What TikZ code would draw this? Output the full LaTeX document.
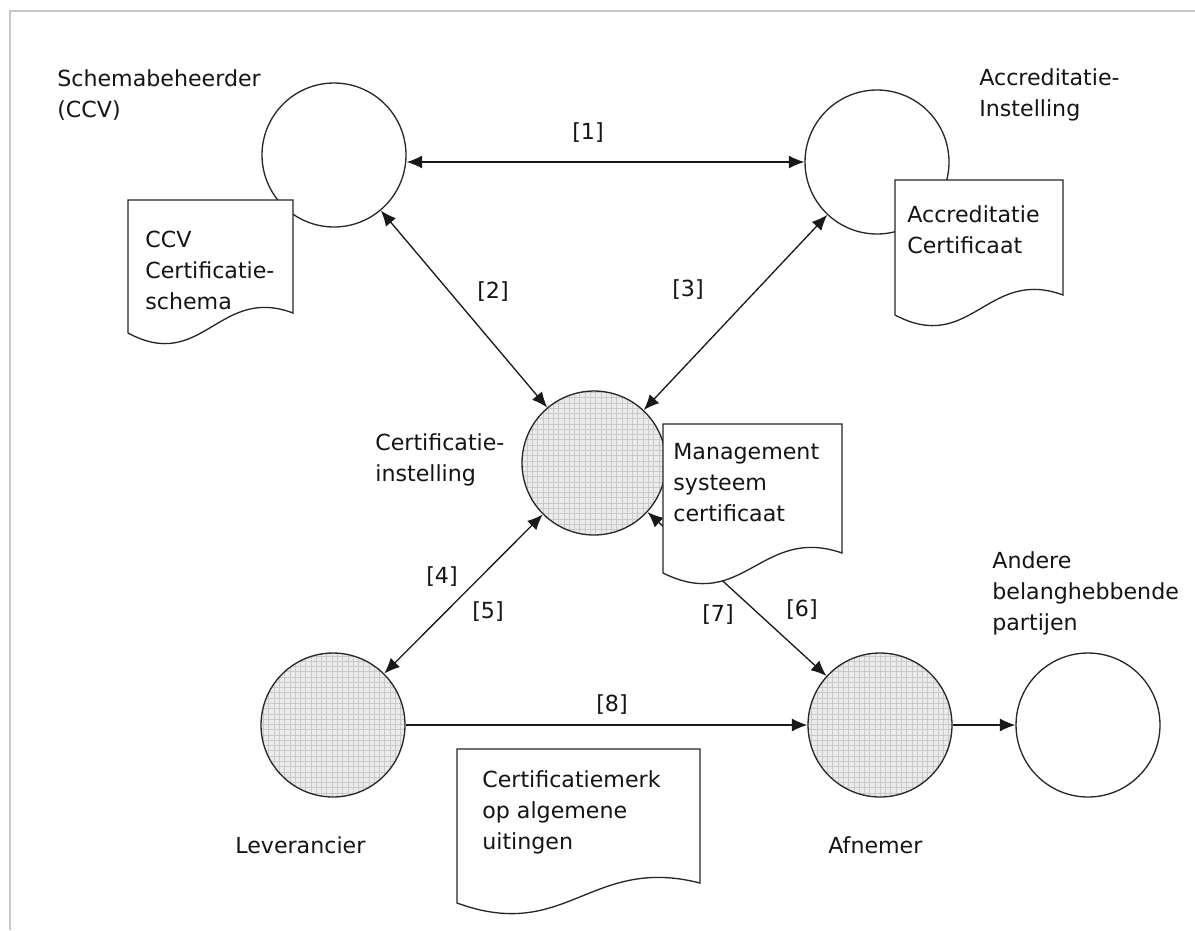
\documentclass[tikz,border=0pt]{standalone}
\usepackage{fontspec}
\setmainfont{DejaVu Sans}
\usetikzlibrary{positioning, arrows.meta, patterns}

\tikzset{
    party/.style={circle, draw=black!85, line width=0.75pt, minimum size=2.88cm, inner sep=0pt},
    hatched/.style={party, preaction={fill=gray!16}, pattern=grid, pattern color=gray!42},
    link/.style={line width=0.75pt, draw=black!90},
    tip/.tip={Latex[length=3.1mm, width=2.6mm]},
    sheet/.style={line width=0.75pt, draw=black!85, fill=white},
    caption/.style={anchor=north west, inner sep=0pt, align=left, font=\fontsize{12.6}{17.6}\selectfont, text=black!92},
    tag/.style={inner sep=0pt, font=\fontsize{12.6}{17.6}\selectfont, text=black!92},
    frame/.style={line width=1pt, draw=black!22}
}

\newcommand{\docsheet}[4]{%
    \filldraw[sheet] (#1,#2) -- ({#1+#3},#2) -- ({#1+#3},{#2+#4-20})
        .. controls ({#1+0.55*#3},{#2+#4-48}) and ({#1+0.45*#3},{#2+#4+40}) .. (#1,{#2+#4}) -- cycle;}

\begin{document}
\begin{tikzpicture}[x=0.02cm, y=-0.02cm]

    \useasboundingbox (0,0) rectangle (1195,930);
    \draw[frame] (1195,11) -- (10,11) -- (10,930);

    \node[party] (schema) at (334,155) {};
    \node[party] (accred) at (877,162) {};
    \node[hatched] (certinst) at (594,463) {};
    \node[hatched] (lev) at (333,725) {};
    \node[hatched] (afnemer) at (880,725) {};
    \node[party] (andere) at (1088,725) {};

    \draw[link, tip-tip] (accred.west -| schema.east) -- (accred.west);
    \draw[link, tip-tip] (schema) -- (certinst);
    \draw[link, tip-tip] (accred) -- (certinst);
    \draw[link, tip-tip] (certinst) -- (lev);
    \draw[link, tip-tip] (certinst) -- (afnemer);
    \draw[link, -tip] (lev) -- (afnemer);
    \draw[link, -tip] (afnemer) -- (andere);

    \docsheet{128}{200}{165}{133}
    \docsheet{895}{180}{168}{135}
    \docsheet{663}{424}{179}{149}
    \docsheet{457}{749}{243}{154}

    \node[caption] (ccvtxt) at (145,231) {CCV\\Certificatie-\\schema};
    \node[caption] (acctxt) at (907,205) {Accreditatie\\Certificaat};
    \node[caption] (mstxt) at (673,443) {Management\\systeem\\certificaat};
    \node[caption] (merktxt) at (482,770) {Certificatiemerk\\op algemene\\uitingen};

    \node[caption] (lschema) at (57,69) {Schemabeheerder\\(CCV)};
    \node[caption] (laccred) at (979,68) {Accreditatie-\\Instelling};
    \node[caption] (lcert) at (375,433) {Certificatie-\\instelling};
    \node[caption] (llev) at (235,836) {Leverancier};
    \node[caption] (lafn) at (828,836) {Afnemer};
    \node[caption] (landere) at (992,551) {Andere\\belanghebbende\\partijen};

    \node[tag] (t1) at (588,133) {[1]};
    \node[tag] (t2) at (493,292) {[2]};
    \node[tag] (t3) at (688,290) {[3]};
    \node[tag] (t4) at (442,577) {[4]};
    \node[tag] (t5) at (488,612) {[5]};
    \node[tag] (t6) at (802,610) {[6]};
    \node[tag] (t7) at (718,615) {[7]};
    \node[tag] (t8) at (612,705) {[8]};

\end{tikzpicture}
\end{document}
